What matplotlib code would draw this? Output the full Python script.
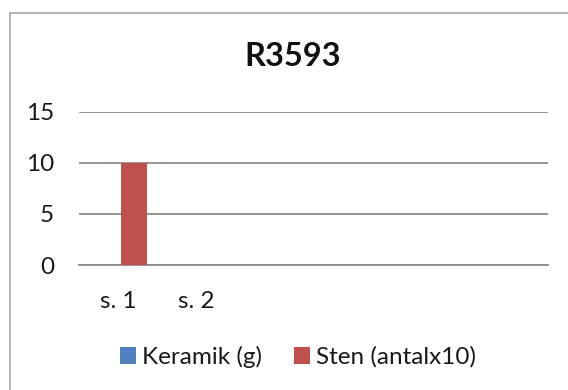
import matplotlib
matplotlib.use("Agg")
import matplotlib.pyplot as plt
from matplotlib.patches import Rectangle, Patch
import numpy as np

# Chart data
categories = ["s. 1", "s. 2", "", "", "", ""]
keramik = [0, 0, 0, 0, 0, 0]
sten = [10, 0, 0, 0, 0, 0]
series_names = ["Keramik (g)", "Sten (antalx10)"]
title = "R3593"
y_ticks = [0, 5, 10, 15]

plt.rcParams["font.family"] = ["Lato", "DejaVu Sans"]

W, H = 568, 390
fig = plt.figure(figsize=(W / 100, H / 100), dpi=100)
fig.patch.set_facecolor("white")

# Outer chart frame
fig.patches.append(Rectangle((9.8 / W, -0.1), 1.2, 1.1 - 12.7 / H,
                             transform=fig.transFigure, fill=False,
                             edgecolor="#a6a6a6", linewidth=1.2, zorder=0))

ax = fig.add_axes([79 / W, 1 - 265 / H, (547.5 - 79) / W, (265 - 111.7) / H])
x = np.arange(len(categories))
bw = 1 / 3
c_blue, c_red = "#4F81BD", "#C0504D"
ax.bar(x - bw / 2 + 0.04, keramik, width=bw, color=c_blue, zorder=3)
ax.bar(x + bw / 2 + 0.04, sten, width=bw, color=c_red, zorder=3)

ax.set_xlim(-0.5, len(categories) - 0.5)
ax.set_ylim(0, 15)
ax.set_yticks(y_ticks)
ax.set_xticks(x)
ax.set_xticklabels(categories)
ax.yaxis.grid(True, color="#8c8c8c", linewidth=1.3)
ax.set_axisbelow(True)
for s in ["left", "right", "top"]:
    ax.spines[s].set_visible(False)
ax.spines["bottom"].set_color("#8c8c8c")
ax.spines["bottom"].set_linewidth(1.3)
ax.tick_params(axis="both", length=0, labelsize=17.5, colors="#1a1a1a")
ax.tick_params(axis="y", pad=18)
ax.tick_params(axis="x", pad=19)

fig.text(293 / W, 1 - 56.5 / H, title, ha="center", va="center",
         fontsize=23.5, fontweight="bold", color="#111111")

handles = [Patch(facecolor=c_blue), Patch(facecolor=c_red)]
fig.legend(handles, series_names, loc="center", bbox_to_anchor=(298 / W, 1 - 357 / H),
           ncol=2, frameon=False, fontsize=17.5, handlelength=0.68, handleheight=0.68,
           handletextpad=0.25, columnspacing=1.3, labelcolor="#1a1a1a",
           borderpad=0, borderaxespad=0)

fig.savefig("out.png", dpi=100)
